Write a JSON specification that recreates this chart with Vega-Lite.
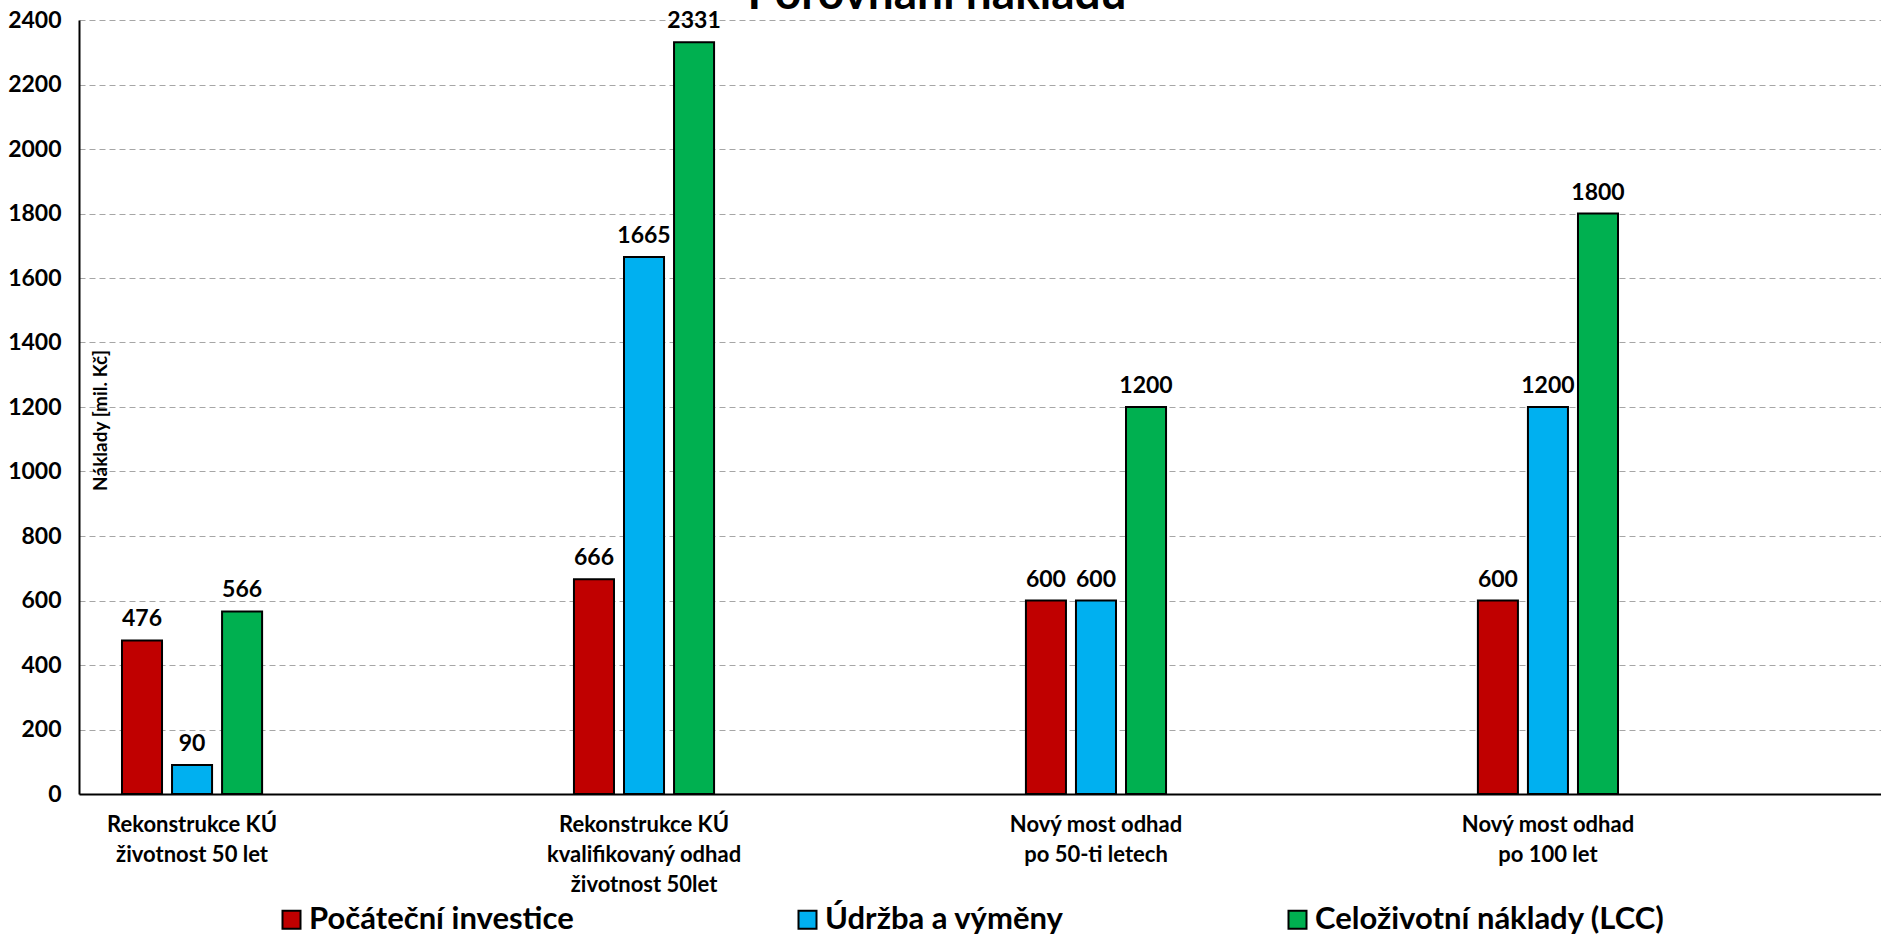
{
  "$schema": "https://vega.github.io/schema/vega-lite/v6.json",
  "autosize": "none",
  "width": 1802,
  "height": 774,
  "padding": {"left": 79, "top": 20, "right": 0, "bottom": 142},
  "background": "white",
  "title": {
    "text": "Porovnání nákladů",
    "fontSize": 46,
    "font": "Lato",
    "fontWeight": "bold",
    "color": "black",
    "anchor": "middle",
    "frame": "group",
    "baseline": "bottom",
    "orient": "top",
    "offset": -56,
    "dx": -43
  },
  "config": {"font": "Lato", "view": {"stroke": null}},
  "data": {
    "values": [
      {"group": "Rekonstrukce KÚ|životnost 50 let", "series": "Počáteční investice", "value": 476},
      {"group": "Rekonstrukce KÚ|životnost 50 let", "series": "Údržba a výměny", "value": 90},
      {"group": "Rekonstrukce KÚ|životnost 50 let", "series": "Celoživotní náklady (LCC)", "value": 566},
      {"group": "Rekonstrukce KÚ|kvalifikovaný odhad|životnost 50let", "series": "Počáteční investice", "value": 666},
      {"group": "Rekonstrukce KÚ|kvalifikovaný odhad|životnost 50let", "series": "Údržba a výměny", "value": 1665},
      {"group": "Rekonstrukce KÚ|kvalifikovaný odhad|životnost 50let", "series": "Celoživotní náklady (LCC)", "value": 2331},
      {"group": "Nový most odhad|po 50-ti letech", "series": "Počáteční investice", "value": 600},
      {"group": "Nový most odhad|po 50-ti letech", "series": "Údržba a výměny", "value": 600},
      {"group": "Nový most odhad|po 50-ti letech", "series": "Celoživotní náklady (LCC)", "value": 1200},
      {"group": "Nový most odhad|po 100 let", "series": "Počáteční investice", "value": 600},
      {"group": "Nový most odhad|po 100 let", "series": "Údržba a výměny", "value": 1200},
      {"group": "Nový most odhad|po 100 let", "series": "Celoživotní náklady (LCC)", "value": 1800}
    ]
  },
  "encoding": {
    "x": {
      "field": "group",
      "type": "nominal",
      "sort": [
        "Rekonstrukce KÚ|životnost 50 let",
        "Rekonstrukce KÚ|kvalifikovaný odhad|životnost 50let",
        "Nový most odhad|po 50-ti letech",
        "Nový most odhad|po 100 let"
      ],
      "scale": {"paddingInner": 0.69, "paddingOuter": 0.3385, "align": 0.1405},
      "axis": {
        "title": null,
        "labelAngle": 0,
        "labelExpr": "split(datum.label, '|')",
        "labelFontSize": 22,
        "labelFontWeight": "bold",
        "labelColor": "black",
        "labelLineHeight": 30,
        "labelPadding": 20,
        "labelLimit": 400,
        "ticks": false,
        "domainColor": "black",
        "domainWidth": 2,
        "grid": false
      }
    },
    "xOffset": {
      "field": "series",
      "type": "nominal",
      "sort": ["Počáteční investice", "Údržba a výměny", "Celoživotní náklady (LCC)"],
      "scale": {"paddingInner": 0.2, "paddingOuter": 0}
    },
    "y": {
      "field": "value",
      "type": "quantitative",
      "scale": {"domain": [0, 2400], "nice": false},
      "axis": {
        "values": [0, 200, 400, 600, 800, 1000, 1200, 1400, 1600, 1800, 2000, 2200, 2400],
        "format": "d",
        "grid": true,
        "gridDash": [6, 4],
        "gridColor": "#a6a6a6",
        "gridWidth": 1,
        "domainColor": "black",
        "domainWidth": 2,
        "ticks": false,
        "labelFontSize": 23,
        "labelFontWeight": "bold",
        "labelColor": "black",
        "labelPadding": 18,
        "title": "Náklady [mil. Kč]",
        "titleFontSize": 19,
        "titleFontWeight": "bold",
        "titleColor": "black",
        "titleAngle": -90,
        "titleX": 21,
        "titleY": 400,
        "titleAlign": "center",
        "titleBaseline": "middle"
      }
    }
  },
  "layer": [
    {
      "mark": {"type": "bar", "stroke": "black", "strokeWidth": 2},
      "encoding": {
        "color": {
          "field": "series",
          "type": "nominal",
          "sort": ["Počáteční investice", "Údržba a výměny", "Celoživotní náklady (LCC)"],
          "scale": {
            "domain": ["Počáteční investice", "Údržba a výměny", "Celoživotní náklady (LCC)"],
            "range": ["#C00000", "#00B0F0", "#00B050"]
          },
          "legend": {
            "title": null,
            "orient": "none",
            "legendX": 197,
            "legendY": 884,
            "direction": "horizontal",
            "columnPadding": 218,
            "symbolType": "square",
            "symbolSize": 324,
            "symbolStrokeColor": "black",
            "symbolStrokeWidth": 2,
            "labelFontSize": 31,
            "labelFontWeight": "bold",
            "labelColor": "black",
            "labelLimit": 700,
            "labelOffset": 2
          }
        }
      }
    },
    {
      "mark": {"type": "text", "baseline": "alphabetic", "dy": -14, "fontSize": 23, "fontWeight": "bold", "color": "black"},
      "encoding": {"text": {"field": "value", "type": "quantitative", "format": "d"}}
    }
  ]
}
